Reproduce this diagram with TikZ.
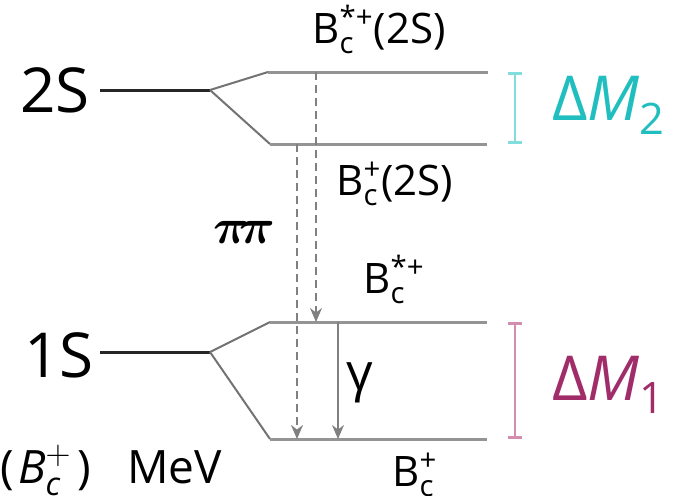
\documentclass[tikz,border=0pt]{standalone}
\usepackage{amsmath,amssymb}
\usepackage{fontspec}
\setmainfont{Open Sans}
\usepackage{tikz}
\usetikzlibrary{arrows.meta}
\definecolor{gaptwo}{RGB}{32,190,190}
\definecolor{gaptwobar}{RGB}{130,222,222}
\definecolor{gapone}{RGB}{160,45,105}
\definecolor{gaponebar}{RGB}{212,140,175}
\tikzset{
  termline/.style  = {line width=1.5pt,black!85},
  forkline/.style  = {line width=1pt,black!55},
  levelline/.style = {line width=1.5pt,black!42},
  dasharr/.style   = {-{Stealth[length=7pt,width=6pt]},line width=.8pt,black!50,dash pattern=on 4pt off 2.5pt},
  photarr/.style   = {-{Stealth[length=7pt,width=6pt]},line width=.8pt,black!50},
  gapbar/.style    = {{Bar[width=7pt,line width=1.5pt]}-{Bar[width=7pt,line width=1.5pt]},line width=1pt},
  txt/.style       = {inner sep=0pt,anchor=base west}
}

\begin{document}
\begin{tikzpicture}[x=0.5pt,y=-0.5pt]
  \useasboundingbox (0,0) rectangle (698,495);
  % 2S multiplet
  \coordinate (in2)   at (100,90);
  \coordinate (fork2) at (210,90);
  \coordinate (vec2l) at (268,72);
  \coordinate (vec2r) at (488,72);
  \coordinate (ps2l)  at (270,144);
  \coordinate (ps2r)  at (487,144);
  \draw[termline]  (in2) -- (fork2);
  \draw[forkline]  (fork2) -- (vec2l);
  \draw[forkline]  (fork2) -- (ps2l);
  \draw[levelline] (vec2l) -- (vec2r);
  \draw[levelline] (ps2l) -- (ps2r);
  % 1S multiplet
  \coordinate (in1)   at (100,352);
  \coordinate (fork1) at (210,352);
  \coordinate (vec1l) at (270,322);
  \coordinate (vec1r) at (487,322);
  \coordinate (ps1l)  at (270,439);
  \coordinate (ps1r)  at (487,439);
  \draw[termline]  (in1) -- (fork1);
  \draw[forkline]  (fork1) -- (vec1l);
  \draw[forkline]  (fork1) -- (ps1l);
  \draw[levelline] (vec1l) -- (vec1r);
  \draw[levelline] (ps1l) -- (ps1r);

  % transitions
  \coordinate (fromV2) at (316,72);
  \coordinate (toV1)   at (316,322);
  \coordinate (fromP2) at (297,144);
  \coordinate (toP1)   at (297,439);
  \coordinate (fromV1) at (338,322);
  \coordinate (toP1b)  at (338,439);
  \draw[dasharr] (fromV2) -- (toV1);
  \draw[dasharr] (fromP2) -- (toP1);
  \draw[photarr] (fromV1) -- (toP1b);

  % mass gaps
  \coordinate (gap2t) at (515,72);
  \coordinate (gap2b) at (515,144);
  \coordinate (gap1t) at (515,322);
  \coordinate (gap1b) at (515,439);
  \draw[gapbar,gaptwobar] (gap2t) -- (gap2b);
  \draw[gapbar,gaponebar] (gap1t) -- (gap1b);

  % labels
  \node[txt,font=\fontsize{31}{31}\selectfont] (lab2S) at (20,112) {2S};
  \node[txt,font=\fontsize{31}{31}\selectfont] (lab1S) at (24,377) {1S};
  \node[txt,font=\fontsize{21}{21}\selectfont] (labV2) at (312,43)
       {B$^{\text{*+}}_{\text{c}}$(2S)};
  \node[txt,font=\fontsize{21}{21}\selectfont] (labP2) at (336,195)
       {B$^{\text{+}}_{\text{c}}$(2S)};
  \node[txt,font=\fontsize{21}{21}\selectfont] (labV1) at (363,293)
       {B$^{\text{*+}}_{\text{c}}$};
  \node[txt,font=\fontsize{21}{21}\selectfont] (labP1) at (392,486)
       {B$^{\text{+}}_{\text{c}}$};
  \node[txt,font=\fontsize{30}{30}\selectfont] (labpp) at (213,243)
       {$\boldsymbol{\pi\!\pi}$};
  \node[txt,font=\fontsize{26}{26}\selectfont] (labgam) at (346,390) {γ};
  \node[txt,font=\fontsize{31}{31}\selectfont,text=gaptwo] (labdM2) at (552,120)
       {Δ\textit{M}$_{\text{2}}$};
  \node[txt,font=\fontsize{31}{31}\selectfont,text=gapone] (labdM1) at (552,400)
       {Δ\textit{M}$_{\text{1}}$};
  \node[txt,font=\fontsize{23}{23}\selectfont] (labunit) at (0,483)
       {(\hspace{2pt}\textit{B}$^{+}_{\textit{c}}$\hspace{3pt})\hspace{18pt}MeV};
\end{tikzpicture}
\end{document}
